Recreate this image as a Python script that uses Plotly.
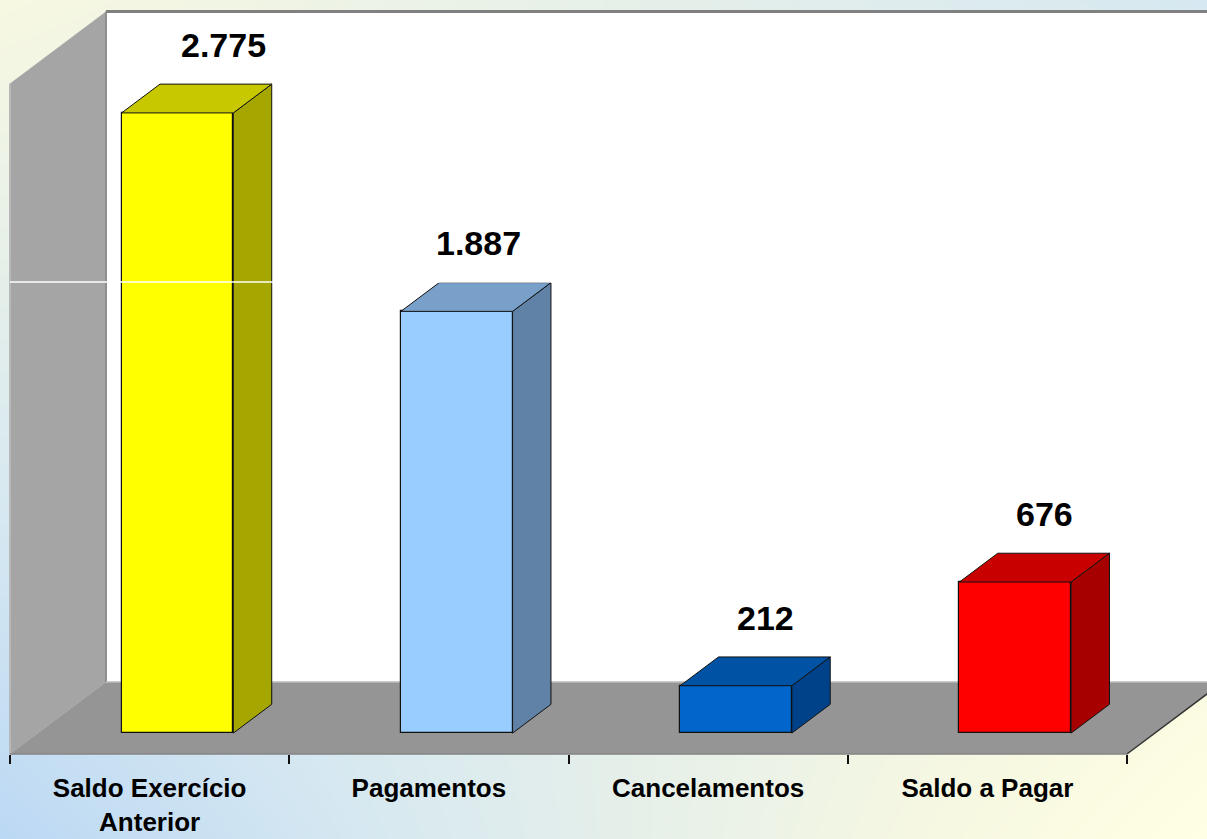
import plotly.graph_objects as go

# ---------------- data ----------------
categories = ["Saldo Exercício<br>Anterior", "Pagamentos", "Cancelamentos", "Saldo a Pagar"]
values = [2775, 1887, 212, 676]
value_labels = ["2.775", "1.887", "212", "676"]
axis_max = 3000

# ---------------- styling ----------------
front_colors = ["#FFFF00", "#99CCFF", "#0066CC", "#FF0000"]
top_colors = ["#C8C800", "#78A0C9", "#0052A4", "#C80000"]
side_colors = ["#A6A600", "#5F82A6", "#00428A", "#A60000"]
label_dx_px = [46, 22, 30, 29]
FONT = "Liberation Sans, Arial, sans-serif"

W, H = 1207, 839
PX_X = 279.25      # pixels per category
PX_Y = 0.2235      # pixels per value unit
X_LEFT_PX = 10
FLOOR_PX = 754
DEPTH_DX_PX, DEPTH_DY_PX = 96, 72

DX = DEPTH_DX_PX / PX_X
DY = DEPTH_DY_PX / PX_Y
xmin = -0.5 - X_LEFT_PX / PX_X
xmax = xmin + W / PX_X
ymin = -(H - FLOOR_PX) / PX_Y
ymax = FLOOR_PX / PX_Y

D0, D1 = 0.29, 0.69   # bar depth (fraction of floor depth)
HALF = 0.2            # half bar width (category units)
n = len(categories)
x_lo, x_hi = -0.5, n - 0.5


def P(x, v, d):
    return x + DX * d, v + DY * d


def poly(points, fill, line_color=None, line_width=0, axes=("x", "y")):
    xs = [p[0] for p in points] + [points[0][0]]
    ys = [p[1] for p in points] + [points[0][1]]
    return go.Scatter(
        x=xs, y=ys, mode="lines" if line_width else "none", fill="toself",
        fillcolor=fill, xaxis=axes[0], yaxis=axes[1],
        line=dict(color=line_color or fill, width=line_width),
        hoverinfo="skip", showlegend=False,
    )


def seg(points, color, width):
    return go.Scatter(
        x=[p[0] for p in points], y=[p[1] for p in points], mode="lines",
        line=dict(color=color, width=width), hoverinfo="skip", showlegend=False,
    )


fig = go.Figure()

# background gradient
fig.add_trace(go.Heatmap(
    x=[xmin, xmax], y=[ymin, ymax],
    z=[[0.0, 1.0], [0.78, 0.3]],
    zmin=0, zmax=1, zsmooth="best", showscale=False, hoverinfo="skip",
    colorscale=[[0.0, "#BBD8F4"], [0.3, "#D6E8F1"], [0.78, "#F7F8E1"], [1.0, "#FFFFE4"]],
))

# back wall
fig.add_trace(poly([P(x_lo, 0, 1), P(x_hi + 1, 0, 1), P(x_hi + 1, axis_max, 1), P(x_lo, axis_max, 1)], "#FFFFFF"))
# left wall
fig.add_trace(poly([P(x_lo, 0, 0), P(x_lo, 0, 1), P(x_lo, axis_max, 1), P(x_lo, axis_max, 0)], "#A5A5A5"))
# floor
fig.add_trace(poly([P(x_lo, 0, 0), P(x_hi, 0, 0), P(x_hi, 0, 1), P(x_lo, 0, 1)], "#959595"))

# wall / floor edges
fig.add_trace(seg([P(x_lo, axis_max, 1), P(x_hi + 1, axis_max, 1)], "#808080", 3))
fig.add_trace(seg([P(x_lo, 0, 1), P(x_lo, axis_max, 1)], "#8E8E8E", 2))
fig.add_trace(seg([P(x_lo, 0, 0), P(x_lo, axis_max, 0)], "#B8B8B8", 2))
fig.add_trace(seg([P(x_lo, 0, 1), P(x_hi + 1, 0, 1)], "#BDBDBD", 1.5))
fig.add_trace(seg([P(x_lo, 0, 0), P(x_hi, 0, 0)], "#858585", 1.5))
fig.add_trace(seg([P(x_hi, 0, 0), P(x_hi, 0, 1)], "#333333", 1.5))

# bar fronts (overlay subplot so they sit above the walls)
fig.add_trace(go.Bar(
    x=[i + DX * D0 for i in range(n)], y=values, base=DY * D0, width=2 * HALF,
    xaxis="x2", yaxis="y2",
    marker=dict(color=front_colors, line=dict(color="#111111", width=1.2)),
    hoverinfo="skip", showlegend=False,
))

# bar sides and tops
for i, v in enumerate(values):
    fig.add_trace(poly([P(i + HALF, 0, D0), P(i + HALF, 0, D1), P(i + HALF, v, D1), P(i + HALF, v, D0)],
                       side_colors[i], "#111111", 1, axes=("x2", "y2")))
    fig.add_trace(poly([P(i - HALF, v, D0), P(i + HALF, v, D0), P(i + HALF, v, D1), P(i - HALF, v, D1)],
                       top_colors[i], "#111111", 1, axes=("x2", "y2")))

# value labels
for i, v in enumerate(values):
    fig.add_annotation(
        x=i + DX * D0 + label_dx_px[i] / PX_X, y=v + DY * D0 + 68 / PX_Y,
        text=f"<b>{value_labels[i]}</b>", showarrow=False, xanchor="center", yanchor="middle",
        font=dict(family=FONT, size=34, color="#000000"),
    )

# decorative horizontal line
fig.add_shape(type="line", xref="x", yref="paper", x0=-0.5, x1=xmax,
              y0=1 - 282 / H, y1=1 - 282 / H, line=dict(color="#FFFFFF", width=1.5), layer="above")

fig.update_layout(
    width=W, height=H, margin=dict(l=0, r=0, t=0, b=0, pad=0, autoexpand=False),
    paper_bgcolor="#E4EFEC", plot_bgcolor="rgba(0,0,0,0)",
    showlegend=False, bargap=0,
    font=dict(family=FONT, color="#000000"),
    xaxis=dict(
        range=[xmin, xmax], anchor="free", position=(H - FLOOR_PX) / H, automargin=False,
        tickmode="array", tickvals=list(range(n)), ticktext=[f"<b>{c}</b>" for c in categories],
        ticks="outside", ticklen=11, tickcolor="rgba(0,0,0,0)",
        tickfont=dict(size=26, family=FONT, color="#000000"),
        minor=dict(tickmode="array", tickvals=[k - 0.5 for k in range(n + 1)],
                   ticks="outside", ticklen=9, tickwidth=2, tickcolor="#111111"),
        showgrid=False, zeroline=False, showline=False, fixedrange=True,
    ),
    yaxis=dict(range=[ymin, ymax], visible=False, showgrid=False, zeroline=False,
               fixedrange=True, automargin=False),
    xaxis2=dict(range=[xmin, xmax], overlaying="x", visible=False, fixedrange=True),
    yaxis2=dict(range=[ymin, ymax], overlaying="y", visible=False, fixedrange=True),
)

fig.write_html("out.html", config={"displayModeBar": False},
               post_script="document.body.style.margin='0';")
